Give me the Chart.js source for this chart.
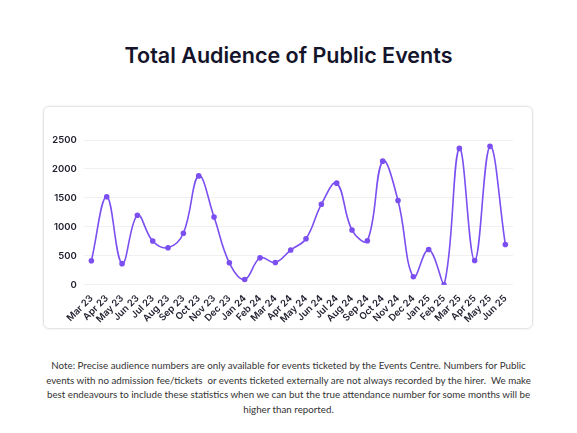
<!DOCTYPE html>
<html>
<head>
<meta charset="utf-8">
<script src="https://cdn.jsdelivr.net/npm/chart.js@4.4.1/dist/chart.umd.min.js"></script>
<style>
  html, body { margin: 0; padding: 0; background: #fff; }
  body { width: 577px; height: 433px; position: relative; overflow: hidden; }
  #title {
    position: absolute; left: 0; top: 42px; width: 577px; text-align: center;
    font-family: Inter, sans-serif; font-weight: 600; font-size: 21.5px; color: #14142b;
  }
  #card {
    position: absolute; left: 43px; top: 106px; width: 488px; height: 221px;
    border: 1px solid #e4e4e4; border-radius: 6px; box-shadow: 0 0 3px rgba(0,0,0,0.08);
  }
  #note {
    position: absolute; left: 40px; top: 358px; width: 497px; text-align: center;
    font-family: Lato, sans-serif; font-size: 9.75px; line-height: 14.5px; color: #333;
  }
</style>
</head>
<body>
<div id="title">Total Audience of Public Events</div>
<div id="card"><canvas id="audienceChart" width="488" height="221"></canvas></div>
<div id="note">Note: Precise audience numbers are only available for events ticketed by the Events Centre. Numbers for Public events with no admission fee/tickets&nbsp; or events ticketed externally are not always recorded by the hirer.&nbsp; We make best endeavours to include these statistics when we can but the true attendance number for some months will be higher than reported.</div>
<script>
const months = ['Mar 23', 'Apr 23', 'May 23', 'Jun 23', 'Jul 23', 'Aug 23', 'Sep 23', 'Oct 23', 'Nov 23', 'Dec 23',
    'Jan 24', 'Feb 24', 'Mar 24', 'Apr 24', 'May 24', 'Jun 24', 'Jul 24', 'Aug 24', 'Sep 24', 'Oct 24', 'Nov 24', 'Dec 24',
    'Jan 25', 'Feb 25', 'Mar 25', 'Apr 25', 'May 25', 'Jun 25'];
const audience = [415, 1520, 365, 1200, 755, 640, 890, 1880, 1170, 380,
    92, 465, 386, 600, 795, 1390, 1755, 945, 760, 2135, 1455, 138,
    610, 0, 2355, 420, 2390, 697];
const yTicks = [0, 500, 1000, 1500, 2000, 2500];

const lineColor = '#7b4ff0';

const ctx = document.getElementById('audienceChart').getContext('2d');
new Chart(ctx, {
    type: 'line',
    data: {
        labels: months,
        datasets: [{
            label: 'Total Audience',
            data: audience,
            borderColor: lineColor,
            backgroundColor: lineColor,
            borderWidth: 1.6,
            tension: 0.4,
            pointRadius: 2,
            pointHoverRadius: 2,
            fill: false
        }]
    },
    options: {
        responsive: false,
        animation: false,
        layout: { padding: { top: 33, left: 1, right: 19, bottom: 3 } },
        plugins: { legend: { display: false }, tooltip: { enabled: false } },
        scales: {
            x: {
                offset: true,
                grid: { display: false },
                border: { display: false },
                ticks: {
                    color: '#1e1e2e', maxRotation: 45, minRotation: 45, autoSkip: false, padding: 0,
                    font: { family: 'Inter', size: 9.5, weight: '600' }
                }
            },
            y: {
                min: 0, max: 2500,
                afterBuildTicks: axis => { axis.ticks = yTicks.map(v => ({ value: v })); },
                grid: { color: '#f0f0f0', lineWidth: 1, drawTicks: false },
                border: { display: false },
                ticks: {
                    color: '#1e1e2e', padding: 7,
                    callback: v => String(v),
                    font: { family: 'Inter', size: 9.5, weight: '600' }
                }
            }
        }
    }
});
</script>
</body>
</html>
